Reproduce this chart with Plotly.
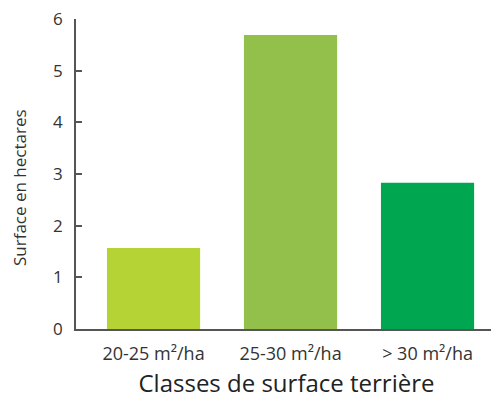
import plotly.graph_objects as go

categories = ["20-25 m²/ha", "25-30 m²/ha", "> 30 m²/ha"]
values = [1.57, 5.69, 2.83]
colors = ["#b5d334", "#93c04b", "#00a650"]
y_ticks = [0, 1, 2, 3, 4, 5, 6]

fig = go.Figure(go.Bar(x=categories, y=values, marker=dict(color=colors, line=dict(width=0)),
                       width=0.68))

font_family = "Open Sans, Liberation Sans, Arial, sans-serif"
fig.update_layout(
    width=491, height=393,
    margin=dict(l=68, r=2, t=11, b=72),
    paper_bgcolor="white", plot_bgcolor="white",
    showlegend=False,
    font=dict(family=font_family, color="#333333"),
    xaxis=dict(
        type="category", automargin=False,
        range=[-0.566, 2.507],
        showline=True, linecolor="#555555", linewidth=1.5,
        ticks="", showgrid=False, zeroline=False,
        tickfont=dict(size=18, color="#333333"),
        ticklabelstandoff=8,
        title=dict(text="Classes de surface terrière", font=dict(size=24, color="#222222"), standoff=11),
    ),
    yaxis=dict(
        range=[0, 6], tickvals=y_ticks, automargin=False,
        showline=True, linecolor="#555555", linewidth=1.5,
        ticks="inside", ticklen=6, tickcolor="#555555", tickwidth=1.5,
        showgrid=False, zeroline=False,
        tickfont=dict(size=17, color="#333333"),
        ticklabelstandoff=8,
        ticklabeloverflow="allow",
    ),
    annotations=[dict(
        text="Surface en hectares", textangle=-90,
        xref="paper", yref="paper", x=-0.1354, y=0.458,
        xanchor="center", yanchor="middle", showarrow=False,
        font=dict(size=17, color="#333333"),
    )],
)

fig.write_html("out.html")
